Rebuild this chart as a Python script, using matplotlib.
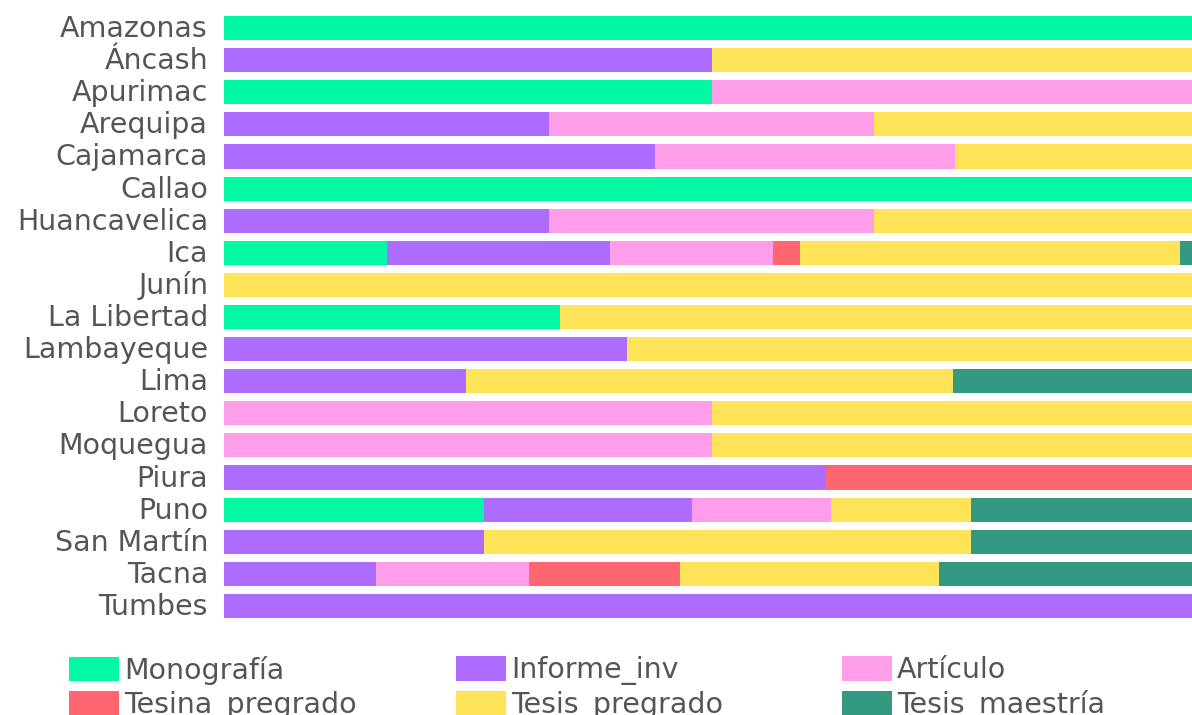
import matplotlib
matplotlib.use("Agg")
import matplotlib.pyplot as plt
import matplotlib.transforms as mtransforms
import numpy as np

regiones = ["Amazonas", "Áncash", "Apurimac", "Arequipa", "Cajamarca", "Callao",
            "Huancavelica", "Ica", "Junín", "La Libertad", "Lambayeque", "Lima",
            "Loreto", "Moquegua", "Piura", "Puno", "San Martín", "Tacna", "Tumbes"]

# porcentaje de cada tipo de documento por región
monografia      = [100, 0, 50, 0, 0, 100, 0, 16.7, 0, 34.4, 0, 0, 0, 0, 0, 26.6, 0, 0, 0]
informe_inv     = [0, 50, 0, 33.3, 44.2, 0, 33.3, 22.9, 0, 0, 41.3, 24.8, 0, 0, 61.7, 21.3, 26.6, 15.6, 100]
articulo        = [0, 0, 50, 33.3, 30.7, 0, 33.3, 16.7, 0, 0, 0, 0, 50, 50, 0, 14.3, 0, 15.6, 0]
tesina_pregrado = [0, 0, 0, 0, 0, 0, 0, 2.7, 0, 0, 0, 0, 0, 0, 38.3, 0, 0, 15.5, 0]
tesis_pregrado  = [0, 50, 0, 33.4, 25.1, 0, 33.4, 39.0, 100, 65.6, 58.7, 49.9, 50, 50, 0, 14.3, 49.9, 26.6, 0]
tesis_maestria  = [0, 0, 0, 0, 0, 0, 0, 2.0, 0, 0, 0, 25.3, 0, 0, 0, 23.5, 23.5, 26.7, 0]

series = [("Monografía", monografia, "#00F9A2"),
          ("Informe_inv", informe_inv, "#AD6BFF"),
          ("Artículo", articulo, "#FF9DE9"),
          ("Tesina_pregrado", tesina_pregrado, "#FF666F"),
          ("Tesis_pregrado", tesis_pregrado, "#FFE45A"),
          ("Tesis_maestría", tesis_maestria, "#339980")]

plt.rcParams["font.family"] = ["DejaVu Sans"]
gris = "#555555"
fs = 20.5

fig = plt.figure(figsize=(11.92, 7.15), dpi=100)
# the plot area runs a little past the right edge, as in the original
ax = fig.add_axes([224 / 1192, 1 - 622 / 715, 976 / 1192, 610 / 715])

y = np.arange(len(regiones))
left = np.zeros(len(regiones))
handles = []
for nombre, valores, color in series:
    vals = np.array(valores, dtype=float)
    b = ax.barh(y, vals, left=left, height=0.75, color=color, label=nombre)
    handles.append(b)
    left += vals

ax.set_xlim(0, 100)
ax.set_ylim(len(regiones) - 0.5, -0.5)
ax.set_yticks(y)
ax.set_yticklabels(regiones, fontsize=fs, color=gris)
ax.tick_params(axis="y", length=0, pad=11.5)
ax.set_xticks([])
for s in ax.spines.values():
    s.set_visible(False)

# nudge the region names up a little
subir = mtransforms.ScaledTranslation(0, 2 / 100, fig.dpi_scale_trans)
for lbl in ax.get_yticklabels():
    lbl.set_transform(lbl.get_transform() + subir)

# three legend columns, two rows each
columnas = [(0, 3, 69), (1, 4, 456), (2, 5, 842)]
for i, j, x0 in columnas:
    leg = fig.legend([handles[i], handles[j]], [series[i][0], series[j][0]],
                     loc="upper left", bbox_to_anchor=(x0 / 1192, 1 - 656 / 715),
                     frameon=False, fontsize=fs, labelcolor=gris,
                     handlelength=1.75, handleheight=0.95, handletextpad=0.18,
                     labelspacing=0.2, borderpad=0, borderaxespad=0)

fig.savefig("out.png", dpi=100)
